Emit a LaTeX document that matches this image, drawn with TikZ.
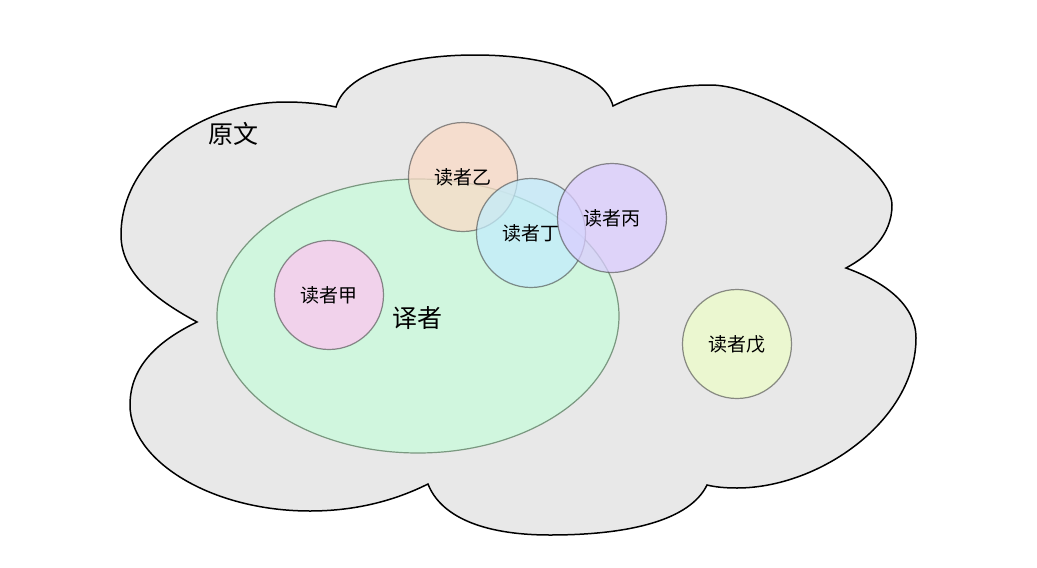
\documentclass[tikz,border=0pt]{standalone}
\usepackage{fontspec}
\setmainfont{Noto Sans CJK SC}
\usetikzlibrary{shapes.geometric}
\definecolor{cloudfill}{RGB}{232,232,232}
\definecolor{mint}{RGB}{208,246,222}
\definecolor{mintedge}{RGB}{122,152,128}
\definecolor{cjia}{RGB}{253,198,240}
\definecolor{cyi}{RGB}{250,218,198}
\definecolor{cbing}{RGB}{219,205,255}
\definecolor{cding}{RGB}{195,236,252}
\definecolor{cwu}{RGB}{237,253,200}
\definecolor{edgegray}{RGB}{70,70,70}
\tikzset{
  reader/.style={circle, minimum size=109pt, inner sep=0pt, fill=#1, fill opacity=0.75,
    draw=edgegray, draw opacity=0.6, line width=1.2pt, text opacity=1, font=\fontsize{19}{21}\selectfont},
  bigtext/.style={font=\fontsize{25}{28}\selectfont},
}
\begin{document}
\begin{tikzpicture}[x=1pt,y=-1pt]
\useasboundingbox (0,0) rectangle (1037,568);
% cloud
\filldraw[fill=cloudfill, draw=black, line width=1.5pt, line join=miter]
  (197,322) .. controls (160,302) and (121,275) .. (121,235)
            .. controls (121,160) and (200,102) .. (286,102)
            .. controls (305,102) and (322,104) .. (336,107)
            .. controls (345,75) and (400,55) .. (475,55)
            .. controls (550,55) and (605,75) .. (613,106)
            .. controls (640,92) and (675,85) .. (710,85)
            .. controls (770,85) and (892,165) .. (892,205)
            .. controls (892,235) and (870,255) .. (846,268)
            .. controls (885,282) and (916,305) .. (916,338)
            .. controls (916,420) and (820,488) .. (737,488)
            .. controls (725,488) and (715,487) .. (707,485)
            .. controls (690,520) and (630,535) .. (550,535)
            .. controls (480,535) and (440,515) .. (428,484)
            .. controls (390,503) and (350,511) .. (310,511)
            .. controls (210,511) and (130,460) .. (130,405)
            .. controls (130,365) and (160,340) .. (197,322)
  -- cycle;
\node[bigtext] (yuanwen) at (233,134) {原文};
% translator
\node[ellipse, minimum width=402pt, minimum height=274pt, fill=mint, draw=mintedge, line width=1.2pt] (yizhe) at (418,316) {};
\node[bigtext] (yizhelabel) at (417,318) {译者};
% readers
\node[reader=cjia] (jia) at (329,295) {读者甲};
\node[reader=cyi] (yi) at (463,177) {读者乙};
\node[reader=cding] (ding) at (531,233) {读者丁};
\node[reader=cbing] (bing) at (612,218) {读者丙};
\node[reader=cwu] (wu) at (737,344) {读者戊};
\end{tikzpicture}
\end{document}
